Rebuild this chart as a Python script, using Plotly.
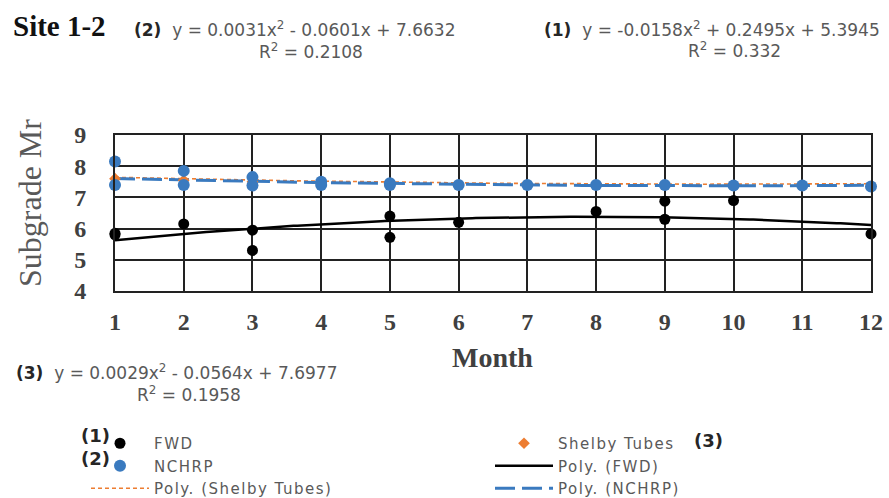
import numpy as np
import plotly.graph_objects as go

# ---------------- data ----------------
months = list(range(1, 13))

fwd_month = [1, 1, 2, 3, 3, 5, 5, 6, 8, 9, 9, 10, 12]
fwd_mr    = [5.85, 5.8, 6.15, 5.95, 5.3, 6.4, 5.72, 6.2, 6.55, 6.88, 6.3, 6.9, 5.83]

nchrp_month = [1, 1, 2, 2, 3, 3, 4, 4, 5, 5, 6, 7, 8, 9, 10, 11, 12]
nchrp_mr    = [8.15, 7.4, 7.85, 7.4, 7.65, 7.38, 7.5, 7.4, 7.45, 7.4, 7.4, 7.4, 7.4, 7.4, 7.38, 7.38, 7.35]

shelby_month = [1, 2, 3, 4, 5, 6, 7, 8, 9, 10, 11, 12]
shelby_mr    = [7.6, 7.55, 7.5, 7.45, 7.42, 7.4, 7.4, 7.4, 7.4, 7.38, 7.38, 7.35]

# trendline coefficients printed on the chart (a, b, c of a*x^2 + b*x + c)
fwd_coef    = [-0.0158, 0.2495, 5.3945]
nchrp_coef  = [0.0031, -0.0601, 7.6632]
shelby_coef = [0.0029, -0.0564, 7.6977]
fwd_r2, nchrp_r2, shelby_r2 = "0.332", "0.2108", "0.1958"

x_ticks = [str(m) for m in months]
y_ticks = [4, 5, 6, 7, 8, 9]

# ---------------- figure ----------------
W, H = 889, 498
L, R, T, B = 115, 18, 135, 207
PW, PH = W - L - R, H - T - B


def px(x):
    return (x - L) / PW


def py(y):
    return (H - B - y) / PH


def wide(s):
    return f"<span style='letter-spacing:1.5px'>{s}</span>"


xs = np.linspace(1, 12, 200)
BLUE = "#3a7abf"
ORANGE = "#ed7d31"
GRID = "#222222"
GRAY = "#595959"

fig = go.Figure()

fig.add_trace(go.Scatter(x=xs, y=np.polyval(shelby_coef, xs), mode="lines",
                         name=wide("Poly. (Shelby Tubes)"), legendrank=5,
                         line=dict(color=ORANGE, width=1.6, dash="4px,3px")))
fig.add_trace(go.Scatter(x=xs, y=np.polyval(nchrp_coef, xs), mode="lines",
                         name=wide("Poly. (NCHRP)"), legendrank=6,
                         line=dict(color=BLUE, width=3, dash="20px,7px")))
fig.add_trace(go.Scatter(x=xs, y=np.polyval(fwd_coef, xs), mode="lines",
                         name=wide("Poly. (FWD)"), legendrank=4,
                         line=dict(color="black", width=2.5)))
fig.add_trace(go.Scatter(x=shelby_month, y=shelby_mr, mode="markers",
                         name=wide("Shelby Tubes"), legendrank=2, cliponaxis=False,
                         marker=dict(symbol="diamond", color=ORANGE, size=9)))
fig.add_trace(go.Scatter(x=nchrp_month, y=nchrp_mr, mode="markers",
                         name=wide("NCHRP"), legendrank=3, cliponaxis=False,
                         marker=dict(color=BLUE, size=12)))
fig.add_trace(go.Scatter(x=fwd_month, y=fwd_mr, mode="markers",
                         name=wide("FWD"), legendrank=1, cliponaxis=False,
                         marker=dict(color="black", size=11)))

serif = "Liberation Serif"
sans = "DejaVu Sans"

fig.update_xaxes(range=[1, 12], tickvals=months, ticktext=x_ticks,
                 showgrid=True, gridcolor=GRID, gridwidth=2,
                 showline=True, mirror=True, linecolor=GRID, linewidth=2,
                 zeroline=False, ticks="", ticklabelstandoff=8,
                 tickfont=dict(family=serif, size=24, color="#404040", weight="bold"))
fig.update_yaxes(range=[4, 9], tickvals=y_ticks,
                 showgrid=True, gridcolor=GRID, gridwidth=2,
                 showline=True, mirror=True, linecolor=GRID, linewidth=2,
                 zeroline=False, ticks="", ticklabelstandoff=22,
                 tickfont=dict(family=serif, size=24, color="#404040", weight="bold"))


def eq(tag, coef):
    a, b, c = coef
    def term(v, first=False):
        s = f"{abs(v):.4f}"
        if first:
            return ("-" if v < 0 else "") + s
        return (" - " if v < 0 else " + ") + s
    return (f"<b><span style='color:#262626'>({tag})</span></b>  y = "
            f"{term(a, True)}x<sup>2</sup>{term(b)}x{term(c)}")


EQF = dict(family=sans, size=17, color=GRAY)
ann = []
ann.append(dict(text="<b>Site 1-2</b>", x=px(11), y=py(26), xanchor="left", yanchor="middle",
                font=dict(family=serif, size=29, color="#111111")))
ann.append(dict(text=eq(2, nchrp_coef), x=px(132), y=py(29), xanchor="left", yanchor="middle", font=EQF))
ann.append(dict(text=f"R<sup>2</sup> = {nchrp_r2}", x=px(311), y=py(51), xanchor="center", yanchor="middle", font=EQF))
ann.append(dict(text=eq(1, fwd_coef), x=px(542), y=py(29), xanchor="left", yanchor="middle", font=EQF))
ann.append(dict(text=f"R<sup>2</sup> = {fwd_r2}", x=px(734), y=py(50), xanchor="center", yanchor="middle", font=EQF))
ann.append(dict(text=eq(3, shelby_coef), x=px(14), y=py(372), xanchor="left", yanchor="middle", font=EQF))
ann.append(dict(text=f"R<sup>2</sup> = {shelby_r2}", x=px(189), y=py(394), xanchor="center", yanchor="middle", font=EQF))
ann.append(dict(text="<b>Month</b>", x=px(492), y=py(357), xanchor="center", yanchor="middle",
                font=dict(family=serif, size=28, color="#404040")))
ann.append(dict(text="Subgrade Mr", x=px(30), y=py(203), xanchor="center", yanchor="middle",
                textangle=-90, font=dict(family=serif, size=32, color="#595959")))
for tag, xx, yy in [("(1)", 95, 435), ("(2)", 95, 459), ("(3)", 708, 440)]:
    ann.append(dict(text=f"<b>{tag}</b>", x=px(xx), y=py(yy), xanchor="center", yanchor="middle",
                    font=dict(family=sans, size=18, color="#262626")))
for a in ann:
    a.update(xref="paper", yref="paper", showarrow=False)

fig.update_layout(
    width=W, height=H,
    margin=dict(l=L, r=R, t=T, b=B, autoexpand=False),
    plot_bgcolor="white", paper_bgcolor="white",
    annotations=ann,
    showlegend=True,
    legend=dict(orientation="h", x=px(86), y=py(427), xanchor="left", yanchor="top",
                entrywidth=331, entrywidthmode="pixels", itemwidth=58,
                traceorder="normal", bgcolor="rgba(0,0,0,0)",
                font=dict(family=sans, size=15, color=GRAY)),
)

fig.write_html("out.html")
